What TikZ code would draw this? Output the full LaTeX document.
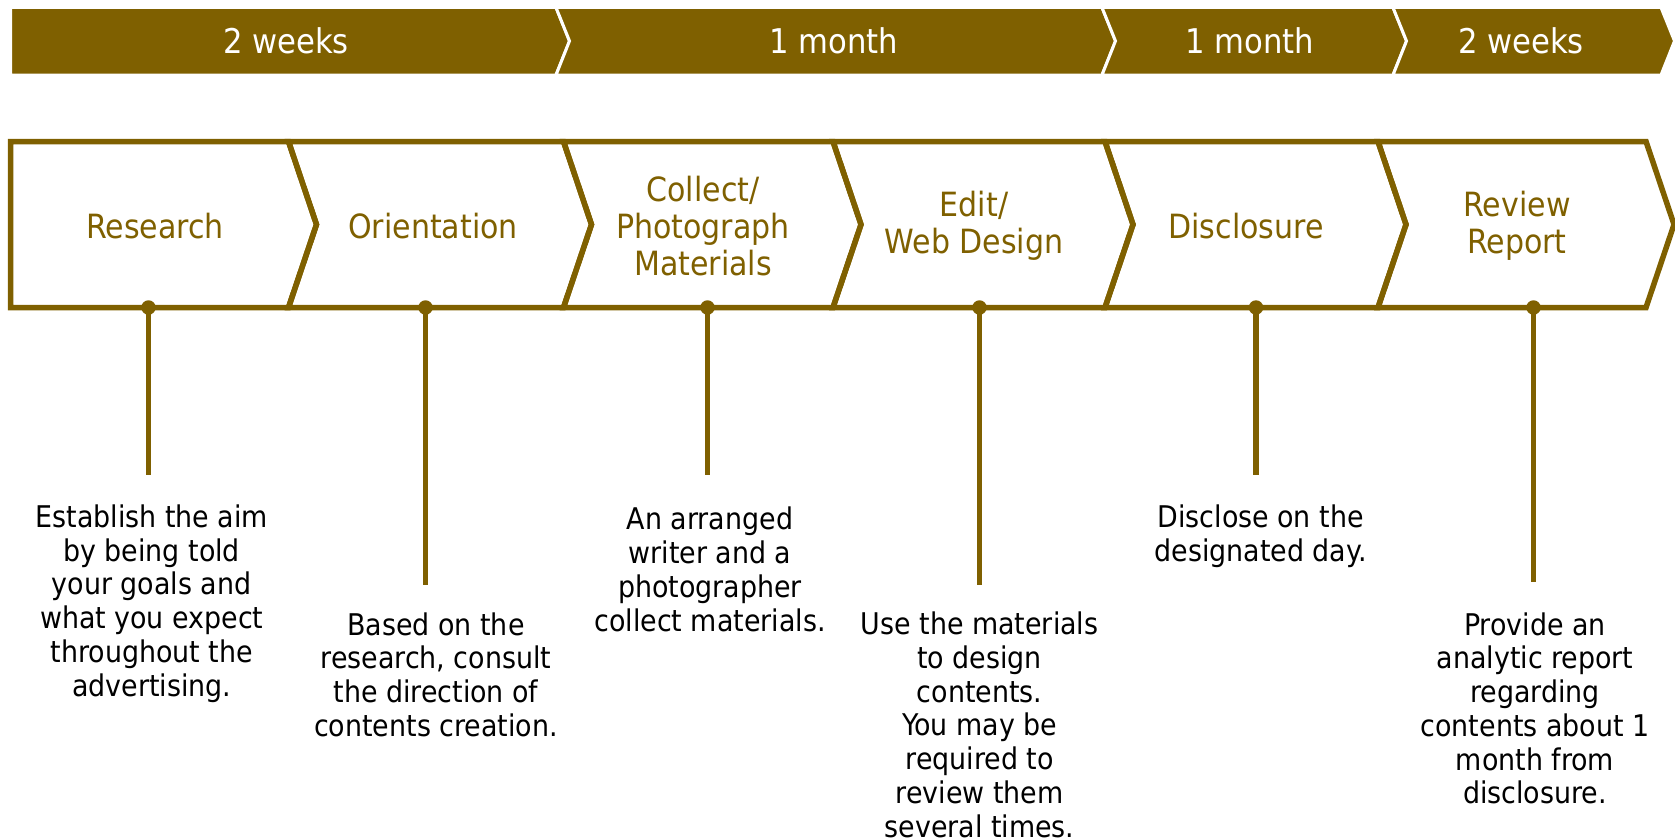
\documentclass[tikz,border=0pt]{standalone}
\usepackage{fontspec}
\setmainfont{DejaVu Sans Condensed}
\usetikzlibrary{positioning}
\definecolor{gold}{HTML}{7F6000}

\begin{document}
\begin{tikzpicture}[
  phase/.style={fill=gold,draw=white,line width=0.03cm},
  phaselbl/.style={text=white,font=\fontsize{9.7}{11}\selectfont},
  stage/.style={draw=gold,line width=0.055cm,line join=miter},
  stagelbl/.style={text=gold,align=center,font=\fontsize{9.5}{10.5}\selectfont},
  dot/.style={circle,fill=gold,inner sep=0pt,minimum size=0.145cm},
  stem/.style={draw=gold,line width=0.052cm},
  desc/.style={align=center,font=\fontsize{8.5}{9.6}\selectfont}]
 \useasboundingbox (0,0) rectangle (16.75,-8.37);

 \path[phase] (0.107,-0.075) -- (5.56,-0.075) -- (5.695,-0.41) -- (5.56,-0.75) -- (0.107,-0.75) -- cycle;
 \path[phase] (5.56,-0.075) -- (11.02,-0.075) -- (11.155,-0.41) -- (11.02,-0.75) -- (5.56,-0.75) -- (5.695,-0.41) -- cycle;
 \path[phase] (11.02,-0.075) -- (13.93,-0.075) -- (14.065,-0.41) -- (13.93,-0.75) -- (11.02,-0.75) -- (11.155,-0.41) -- cycle;
 \path[phase] (13.93,-0.075) -- (16.61,-0.075) -- (16.745,-0.41) -- (16.61,-0.75) -- (13.93,-0.75) -- (14.065,-0.41) -- cycle;

 \node[phaselbl] (p_1) at (2.86,-0.41) {2 weeks};
 \node[phaselbl] (p_2) at (8.34,-0.41) {1 month};
 \node[phaselbl] (p_3) at (12.50,-0.41) {1 month};
 \node[phaselbl] (p_4) at (15.21,-0.41) {2 weeks};

 \draw[stage] (0.107,-1.415) -- (2.885,-1.415) -- (3.165,-2.245) -- (2.885,-3.075) -- (0.107,-3.075) -- cycle;
 \draw[stage] (2.885,-1.415) -- (5.635,-1.415) -- (5.915,-2.245) -- (5.635,-3.075) -- (2.885,-3.075) -- (3.165,-2.245) -- cycle;
 \draw[stage] (5.635,-1.415) -- (8.33,-1.415) -- (8.61,-2.245) -- (8.33,-3.075) -- (5.635,-3.075) -- (5.915,-2.245) -- cycle;
 \draw[stage] (8.33,-1.415) -- (11.05,-1.415) -- (11.33,-2.245) -- (11.05,-3.075) -- (8.33,-3.075) -- (8.61,-2.245) -- cycle;
 \draw[stage] (11.05,-1.415) -- (13.78,-1.415) -- (14.06,-2.245) -- (13.78,-3.075) -- (11.05,-3.075) -- (11.33,-2.245) -- cycle;
 \draw[stage] (13.78,-1.415) -- (16.46,-1.415) -- (16.74,-2.245) -- (16.46,-3.075) -- (13.78,-3.075) -- (14.06,-2.245) -- cycle;

 \node[stagelbl] (s_res) at (1.55,-2.26) {Research};
 \node[stagelbl] (s_ori) at (4.33,-2.26) {Orientation};
 \node[stagelbl] (s_col) at (7.03,-2.26) {Collect/\\Photograph\\Materials};
 \node[stagelbl] (s_edi) at (9.74,-2.26) {Edit/\\Web Design};
 \node[stagelbl] (s_dis) at (12.46,-2.26) {Disclosure};
 \node[stagelbl] (s_rev) at (15.17,-2.26) {Review\\Report};

 \coordinate (e_res) at (1.485,-4.75);
 \coordinate (e_ori) at (4.255,-5.85);
 \coordinate (e_col) at (7.075,-4.75);
 \coordinate (e_edi) at (9.795,-5.85);
 \coordinate (e_dis) at (12.56,-4.75);
 \coordinate (e_rev) at (15.335,-5.82);

 \node[dot] (d_res) at (1.485,-3.075) {};
 \node[dot] (d_ori) at (4.255,-3.075) {};
 \node[dot] (d_col) at (7.075,-3.075) {};
 \node[dot] (d_edi) at (9.795,-3.075) {};
 \node[dot] (d_dis) at (12.56,-3.075) {};
 \node[dot] (d_rev) at (15.335,-3.075) {};

 \path[stem]
 (d_res.center) edge (e_res)
 (d_ori.center) edge (e_ori)
 (d_col.center) edge (e_col)
 (d_edi.center) edge (e_edi)
 (d_dis.center) edge (e_dis)
 (d_rev.center) edge (e_rev);

 \node[desc] (t_res) at (1.517,-6.036) {Establish the aim\\by being told\\your goals and\\what you expect\\throughout the\\advertising.};
 \node[desc] (t_ori) at (4.36,-6.746) {Based on the\\research, consult\\the direction of\\contents creation.};
 \node[desc] (t_col) at (7.10,-5.694) {An arranged\\writer and a\\photographer\\collect materials.};
 \node[desc] (t_edi) at (9.796,-7.248) {Use the materials\\to design\\contents.\\You may be\\required to\\review them\\several times.};
 \node[desc] (t_dis) at (12.606,-5.363) {Disclose on the\\designated day.};
 \node[desc] (t_rev) at (15.35,-7.083) {Provide an\\analytic report\\regarding\\contents about 1\\month from\\disclosure.};
\end{tikzpicture}
\end{document}
